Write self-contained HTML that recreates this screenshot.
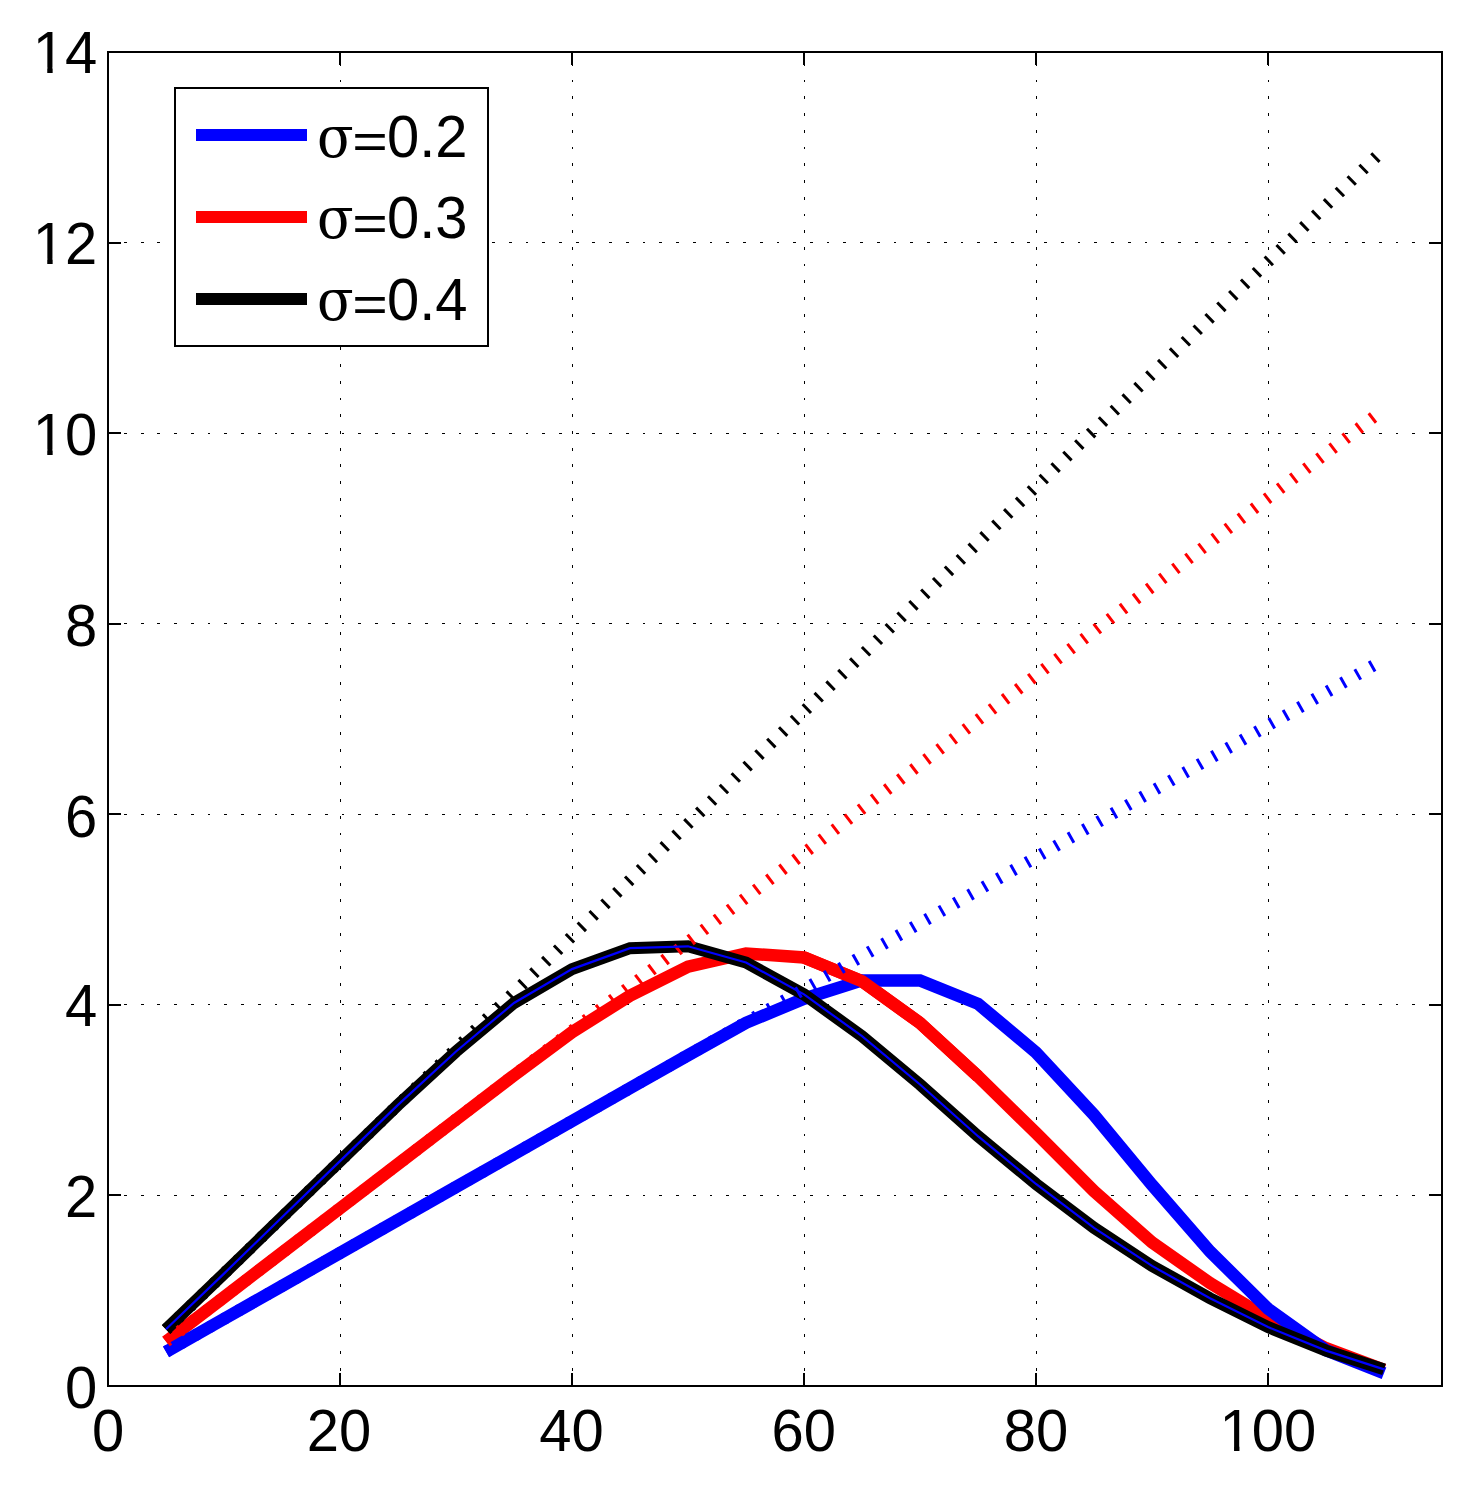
<!DOCTYPE html>
<html lang="en">
<head>
<meta charset="utf-8">
<title>sigma plot</title>
<style>
html,body{margin:0;padding:0;background:#fff;}
body{width:1472px;height:1485px;overflow:hidden;}
svg{display:block;}
text{font-family:"Liberation Sans",sans-serif;font-size:58px;fill:#000;}
.sym{font-family:"DejaVu Serif","Liberation Serif",serif;font-size:58.5px;}
.grid line{stroke:#000;stroke-width:1;stroke-dasharray:2.8 13.93;shape-rendering:crispEdges;}
.gv line{stroke-dashoffset:1.4;}
.gh line{stroke-dashoffset:0.7;}
.tick line{stroke:#000;stroke-width:2;shape-rendering:crispEdges;}
.curve polyline{fill:none;stroke-width:12.5;stroke-linejoin:miter;stroke-linecap:butt;}
.dot polyline{fill:none;stroke-width:12;stroke-dasharray:3 13.496;stroke-dashoffset:-0.2;}
</style>
</head>
<body>
<svg width="1472" height="1485" viewBox="0 0 1472 1485">
<defs>
<clipPath id="c1" clipPathUnits="userSpaceOnUse">
<rect x="-10" y="-70" width="140" height="64.8"/>
<rect x="14.45" y="-10" width="5.4" height="20"/>
<rect x="30.5" y="-10" width="100" height="20"/>
</clipPath>
</defs>
<rect x="0" y="0" width="1472" height="1485" fill="#fff"/>

<g class="grid gv">
<line x1="340.0" y1="1386.0" x2="340.0" y2="52.0"/>
<line x1="572.0" y1="1386.0" x2="572.0" y2="52.0"/>
<line x1="804.0" y1="1386.0" x2="804.0" y2="52.0"/>
<line x1="1036.0" y1="1386.0" x2="1036.0" y2="52.0"/>
<line x1="1268.0" y1="1386.0" x2="1268.0" y2="52.0"/>
</g>
<g class="grid gh">
<line x1="108.0" y1="1195.4" x2="1442.0" y2="1195.4"/>
<line x1="108.0" y1="1004.9" x2="1442.0" y2="1004.9"/>
<line x1="108.0" y1="814.3" x2="1442.0" y2="814.3"/>
<line x1="108.0" y1="623.7" x2="1442.0" y2="623.7"/>
<line x1="108.0" y1="433.1" x2="1442.0" y2="433.1"/>
<line x1="108.0" y1="242.6" x2="1442.0" y2="242.6"/>
</g>
<g class="curve">
<polyline stroke="#ff0000" points="166.0,1341.6 224.0,1297.2 282.0,1252.8 340.0,1208.4 398.0,1164.0 456.0,1119.6 514.0,1075.4 572.0,1032.2 630.0,995.7 688.0,966.7 746.0,953.5 804.0,957.5 862.0,981.3 920.0,1023.0 978.0,1076.3 1036.0,1133.0 1094.0,1191.1 1152.0,1242.4 1210.0,1283.1 1268.0,1318.3 1326.0,1348.2 1384.0,1369.8"/>
<polyline stroke="#0000ff" points="166.0,1351.9 224.0,1318.9 282.0,1286.0 340.0,1253.0 398.0,1220.0 456.0,1187.0 514.0,1154.1 572.0,1121.1 630.0,1088.1 688.0,1055.2 746.0,1022.8 804.0,998.7 862.0,980.4 920.0,980.4 978.0,1003.8 1036.0,1052.5 1094.0,1114.9 1152.0,1184.9 1210.0,1251.5 1268.0,1308.8 1326.0,1350.3 1384.0,1373.3"/>
<polyline stroke="#ff0000" points="804.0,957.5 862.0,981.3 920.0,1023.0 978.0,1076.3"/>
<polyline stroke="#000000" style="stroke-width:12" points="166.0,1329.3 224.0,1273.6 282.0,1217.3 340.0,1161.1 398.0,1104.9 456.0,1051.5 514.0,1003.0 572.0,969.1 630.0,948.2 688.0,946.3 746.0,962.5 804.0,994.4 862.0,1036.2 920.0,1084.5 978.0,1136.2 1036.0,1184.0 1094.0,1227.8 1152.0,1265.9 1210.0,1298.3 1268.0,1327.1 1326.0,1350.6 1384.0,1369.4"/>
</g>
<g class="dot">
<polyline stroke="#0000ff" points="166.0,1351.9 1384.0,659.5"/>
<polyline stroke="#ff0000" points="166.0,1341.6 1384.0,409.1"/>
<polyline stroke="#000000" points="166.0,1329.8 1384.0,149.2"/>
</g>
<polyline fill="none" stroke="#0000ff" stroke-width="2.2" points="166.0,1329.3 224.0,1273.6 282.0,1217.3 340.0,1161.1 398.0,1104.9 456.0,1051.5 514.0,1003.0 572.0,969.1 630.0,948.2 688.0,946.3 746.0,962.5 804.0,994.4 862.0,1036.2 920.0,1084.5 978.0,1136.2 1036.0,1184.0 1094.0,1227.8 1152.0,1265.9 1210.0,1298.3 1268.0,1327.1 1326.0,1350.6 1384.0,1369.4"/>
<g class="tick">
<line x1="340.0" y1="1386.0" x2="340.0" y2="1372.7"/>
<line x1="340.0" y1="52.0" x2="340.0" y2="65.3"/>
<line x1="572.0" y1="1386.0" x2="572.0" y2="1372.7"/>
<line x1="572.0" y1="52.0" x2="572.0" y2="65.3"/>
<line x1="804.0" y1="1386.0" x2="804.0" y2="1372.7"/>
<line x1="804.0" y1="52.0" x2="804.0" y2="65.3"/>
<line x1="1036.0" y1="1386.0" x2="1036.0" y2="1372.7"/>
<line x1="1036.0" y1="52.0" x2="1036.0" y2="65.3"/>
<line x1="1268.0" y1="1386.0" x2="1268.0" y2="1372.7"/>
<line x1="1268.0" y1="52.0" x2="1268.0" y2="65.3"/>
<line x1="108.0" y1="1195.4" x2="121.3" y2="1195.4"/>
<line x1="1442.0" y1="1195.4" x2="1428.7" y2="1195.4"/>
<line x1="108.0" y1="1004.9" x2="121.3" y2="1004.9"/>
<line x1="1442.0" y1="1004.9" x2="1428.7" y2="1004.9"/>
<line x1="108.0" y1="814.3" x2="121.3" y2="814.3"/>
<line x1="1442.0" y1="814.3" x2="1428.7" y2="814.3"/>
<line x1="108.0" y1="623.7" x2="121.3" y2="623.7"/>
<line x1="1442.0" y1="623.7" x2="1428.7" y2="623.7"/>
<line x1="108.0" y1="433.1" x2="121.3" y2="433.1"/>
<line x1="1442.0" y1="433.1" x2="1428.7" y2="433.1"/>
<line x1="108.0" y1="242.6" x2="121.3" y2="242.6"/>
<line x1="1442.0" y1="242.6" x2="1428.7" y2="242.6"/>
</g>
<rect x="108.0" y="52.0" width="1334.0" height="1334.0" fill="none" stroke="#000" stroke-width="2" shape-rendering="crispEdges"/>
<text transform="translate(91.9,1451.3) scale(1,1.029)" x="0" y="0">0</text>
<text transform="translate(306.7,1451.3) scale(1,1.029)" x="0" y="0">20</text>
<text transform="translate(539.2,1451.3) scale(1,1.029)" x="0" y="0">40</text>
<text transform="translate(771.4,1451.3) scale(1,1.029)" x="0" y="0">60</text>
<text transform="translate(1003.7,1451.3) scale(1,1.029)" x="0" y="0">80</text>
<g transform="translate(1219.6,1451.3) scale(1,1.029)" clip-path="url(#c1)"><text x="0" y="0">100</text></g>
<text transform="translate(65.0,1408.2) scale(1,1.029)" x="0" y="0">0</text>
<text transform="translate(65.0,1217.3) scale(1,1.029)" x="0" y="0">2</text>
<text transform="translate(65.0,1026.1) scale(1,1.029)" x="0" y="0">4</text>
<text transform="translate(65.0,836.5) scale(1,1.029)" x="0" y="0">6</text>
<text transform="translate(65.0,645.9) scale(1,1.029)" x="0" y="0">8</text>
<g transform="translate(32.8,454.8) scale(1,1.029)" clip-path="url(#c1)"><text x="0" y="0">10</text></g>
<g transform="translate(32.8,264.0) scale(1,1.029)" clip-path="url(#c1)"><text x="0" y="0">12</text></g>
<g transform="translate(32.8,72.9) scale(1,1.029)" clip-path="url(#c1)"><text x="0" y="0">14</text></g>
<rect x="175.2" y="88.3" width="313.1" height="257.4" fill="#fff" stroke="#000" stroke-width="2" shape-rendering="crispEdges"/>
<line x1="196" y1="134.9" x2="307" y2="134.9" stroke="#0000ff" stroke-width="12"/>
<text class="sym" transform="translate(317.1,156.8) scale(0.918,1)" x="0" y="0">σ</text>
<text transform="translate(352.3,158.0) scale(1.05,0.86)" x="0" y="0">=</text>
<text transform="translate(386.9,156.7) scale(1,1.029)" x="0" y="0">0.2</text>
<line x1="196" y1="216.9" x2="307" y2="216.9" stroke="#ff0000" stroke-width="12"/>
<text class="sym" transform="translate(317.1,238.4) scale(0.918,1)" x="0" y="0">σ</text>
<text transform="translate(352.3,239.6) scale(1.05,0.86)" x="0" y="0">=</text>
<text transform="translate(386.9,238.3) scale(1,1.029)" x="0" y="0">0.3</text>
<line x1="196" y1="298.9" x2="307" y2="298.9" stroke="#000000" stroke-width="12"/>
<text class="sym" transform="translate(317.1,319.9) scale(0.918,1)" x="0" y="0">σ</text>
<text transform="translate(352.3,321.1) scale(1.05,0.86)" x="0" y="0">=</text>
<text transform="translate(386.9,319.8) scale(1,1.029)" x="0" y="0">0.4</text>
</svg>
</body>
</html>
